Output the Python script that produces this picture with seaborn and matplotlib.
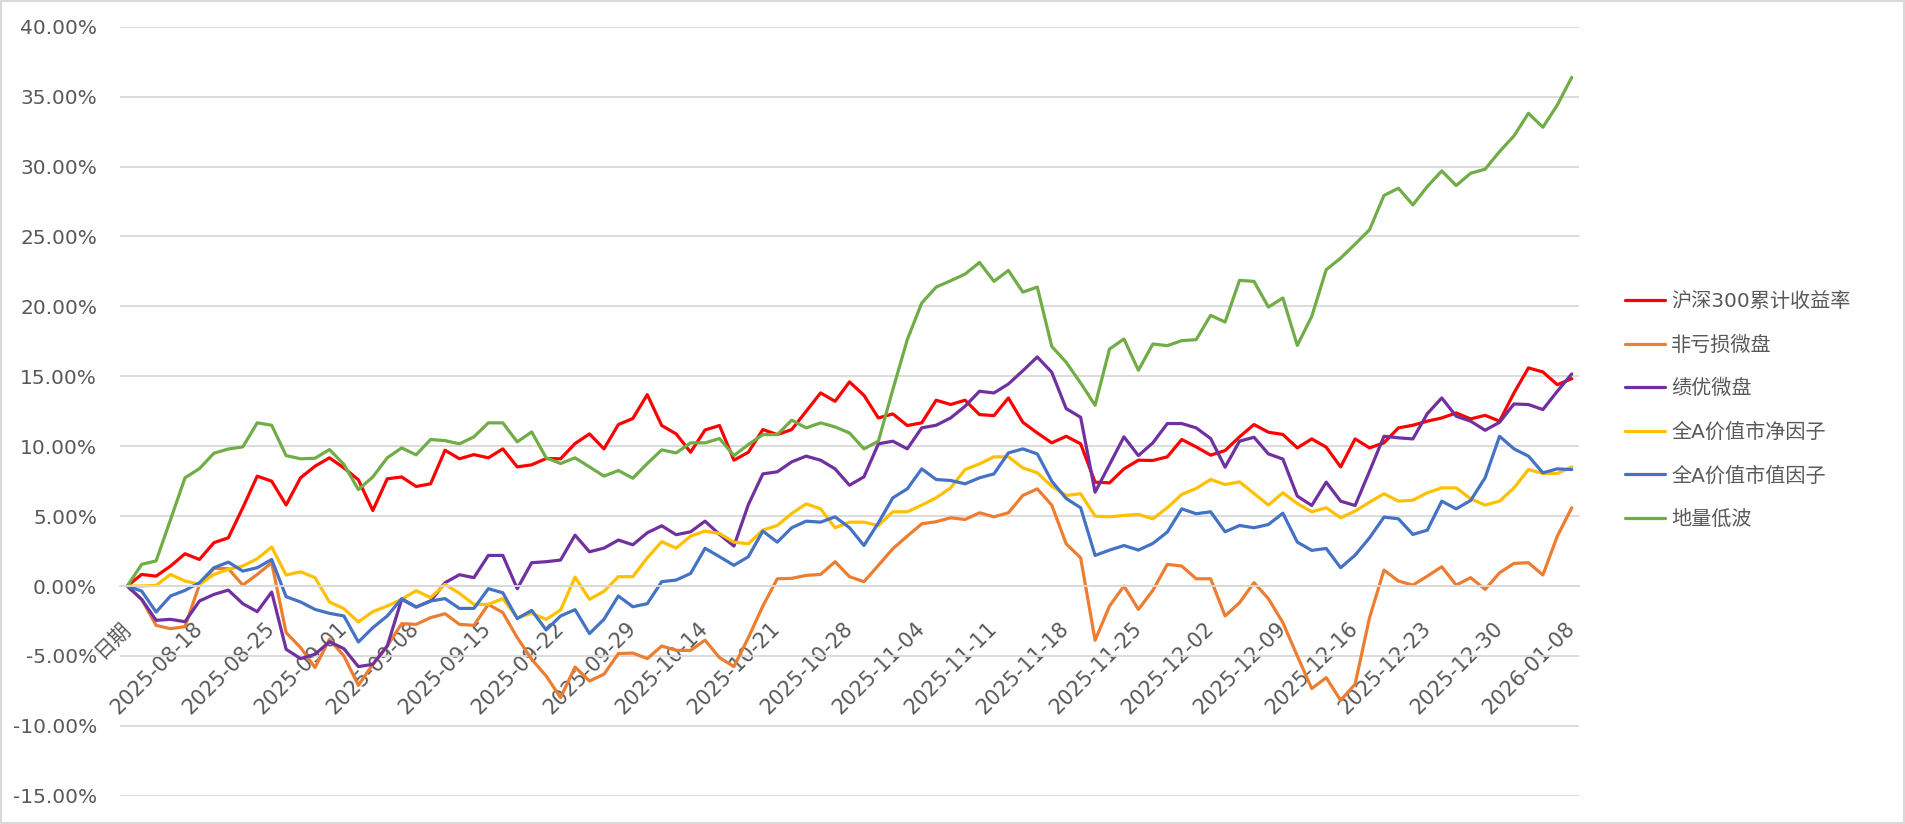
import matplotlib
matplotlib.use("Agg")
import matplotlib.pyplot as plt
import seaborn as sns
import pandas as pd
from matplotlib.ticker import FuncFormatter, MultipleLocator
from matplotlib.patches import Rectangle
from matplotlib.lines import Line2D

categories = [
    "日期",
    "2025-08-12", "2025-08-13", "2025-08-14", "2025-08-15",
    "2025-08-18", "2025-08-19", "2025-08-20", "2025-08-21", "2025-08-22",
    "2025-08-25", "2025-08-26", "2025-08-27", "2025-08-28", "2025-08-29",
    "2025-09-01", "2025-09-02", "2025-09-03", "2025-09-04", "2025-09-05",
    "2025-09-08", "2025-09-09", "2025-09-10", "2025-09-11", "2025-09-12",
    "2025-09-15", "2025-09-16", "2025-09-17", "2025-09-18", "2025-09-19",
    "2025-09-22", "2025-09-23", "2025-09-24", "2025-09-25", "2025-09-26",
    "2025-09-29", "2025-09-30", "2025-10-09", "2025-10-10", "2025-10-13",
    "2025-10-14", "2025-10-15", "2025-10-16", "2025-10-17", "2025-10-20",
    "2025-10-21", "2025-10-22", "2025-10-23", "2025-10-24", "2025-10-27",
    "2025-10-28", "2025-10-29", "2025-10-30", "2025-10-31", "2025-11-03",
    "2025-11-04", "2025-11-05", "2025-11-06", "2025-11-07", "2025-11-10",
    "2025-11-11", "2025-11-12", "2025-11-13", "2025-11-14", "2025-11-17",
    "2025-11-18", "2025-11-19", "2025-11-20", "2025-11-21", "2025-11-24",
    "2025-11-25", "2025-11-26", "2025-11-27", "2025-11-28", "2025-12-01",
    "2025-12-02", "2025-12-03", "2025-12-04", "2025-12-05", "2025-12-08",
    "2025-12-09", "2025-12-10", "2025-12-11", "2025-12-12", "2025-12-15",
    "2025-12-16", "2025-12-17", "2025-12-18", "2025-12-19", "2025-12-22",
    "2025-12-23", "2025-12-24", "2025-12-25", "2025-12-26", "2025-12-29",
    "2025-12-30", "2025-12-31", "2026-01-05", "2026-01-06", "2026-01-07",
    "2026-01-08",
]

series_names = ["沪深300累计收益率", "非亏损微盘", "绩优微盘", "全A价值市净因子", "全A价值市值因子", "地量低波"]

hs300 = [0, 0.83, 0.71, 1.43, 2.31, 1.9, 3.1, 3.45, 5.6, 7.86,
         7.5, 5.8, 7.74, 8.57, 9.17, 8.45, 7.6, 5.4, 7.67, 7.8,
         7.12, 7.31, 9.71, 9.1, 9.4, 9.17, 9.81, 8.52, 8.67, 9.12,
         9.1, 10.19, 10.88, 9.81, 11.55, 11.98, 13.69, 11.48, 10.88, 9.57,
         11.16, 11.48, 9.0, 9.57, 11.19, 10.83, 11.19, 12.5, 13.81, 13.21,
         14.6, 13.64, 12.02, 12.31, 11.48, 11.67, 13.29, 12.98, 13.29, 12.26,
         12.19, 13.45, 11.71, 10.95, 10.24, 10.71, 10.17, 7.43, 7.38, 8.38,
         9.0, 8.98, 9.24, 10.48, 9.95, 9.36, 9.69, 10.67, 11.55, 11.0,
         10.84, 9.88, 10.52, 9.93, 8.52, 10.52, 9.88, 10.24, 11.31, 11.5,
         11.79, 12.02, 12.38, 11.95, 12.21, 11.79, 13.81, 15.6, 15.31, 14.4,
         14.83]

non_loss_micro = [0, -0.95, -2.81, -3.05, -2.9, 0.1, 1.26, 1.24, 0.07, 0.83,
                  1.67, -3.33, -4.4, -5.83, -3.81, -5.0, -7.1, -5.6, -4.29, -2.69,
                  -2.74, -2.26, -1.98, -2.74, -2.81, -1.31, -1.9, -3.69, -5.24, -6.43,
                  -7.98, -5.79, -6.79, -6.31, -4.83, -4.79, -5.19, -4.29, -4.6, -4.6,
                  -3.87, -5.12, -5.76, -3.69, -1.43, 0.52, 0.55, 0.76, 0.83, 1.74,
                  0.67, 0.31, 1.48, 2.67, 3.57, 4.45, 4.6, 4.88, 4.76, 5.24,
                  4.95, 5.24, 6.48, 6.95, 5.79, 3.02, 2.02, -3.88, -1.43, 0.0,
                  -1.67, -0.31, 1.55, 1.43, 0.52, 0.52, -2.14, -1.19, 0.24, -0.9,
                  -2.62, -5.0, -7.33, -6.55, -8.17, -7.02, -2.26, 1.14, 0.36, 0.07,
                  0.71, 1.38, 0.07, 0.6, -0.24, 0.95, 1.62, 1.67, 0.79, 3.57,
                  5.6]

quality_micro = [0, -0.95, -2.45, -2.38, -2.55, -1.07, -0.6, -0.29, -1.26, -1.83,
                 -0.43, -4.52, -5.19, -4.88, -3.98, -4.48, -5.76, -5.6, -4.29, -0.95,
                 -1.5, -1.07, 0.24, 0.81, 0.6, 2.19, 2.19, -0.19, 1.67, 1.74,
                 1.86, 3.64, 2.45, 2.71, 3.29, 2.95, 3.81, 4.31, 3.67, 3.88,
                 4.64, 3.69, 2.86, 5.83, 8.02, 8.17, 8.88, 9.29, 9.0, 8.38,
                 7.21, 7.81, 10.17, 10.36, 9.81, 11.31, 11.5, 12.02, 12.86, 13.93,
                 13.81, 14.45, 15.4, 16.38, 15.29, 12.69, 12.07, 6.71, 8.69, 10.67,
                 9.33, 10.24, 11.62, 11.62, 11.31, 10.55, 8.5, 10.36, 10.64, 9.45,
                 9.08, 6.43, 5.76, 7.43, 6.07, 5.76, 8.21, 10.71, 10.6, 10.52,
                 12.33, 13.45, 12.14, 11.79, 11.14, 11.71, 13.02, 12.98, 12.62, 13.93,
                 15.17]

value_pb = [0, 0, 0.05, 0.83, 0.36, 0.12, 0.83, 1.19, 1.43, 1.95,
            2.79, 0.79, 1.02, 0.6, -1.14, -1.62, -2.57, -1.83, -1.43, -0.95,
            -0.33, -0.83, 0.12, -0.52, -1.31, -1.31, -0.9, -2.26, -1.95, -2.38,
            -1.71, 0.64, -0.95, -0.38, 0.67, 0.67, 2.02, 3.17, 2.71, 3.57,
            3.93, 3.76, 3.14, 3.02, 4.0, 4.33, 5.19, 5.88, 5.52, 4.17,
            4.57, 4.57, 4.33, 5.31, 5.31, 5.79, 6.31, 7.02, 8.33, 8.74,
            9.24, 9.24, 8.45, 8.1, 7.14, 6.48, 6.6, 5.0, 4.95, 5.05,
            5.12, 4.81, 5.6, 6.55, 6.98, 7.62, 7.26, 7.45, 6.62, 5.79,
            6.67, 5.9, 5.31, 5.6, 4.88, 5.36, 6.0, 6.6, 6.07, 6.14,
            6.67, 7.02, 7.02, 6.24, 5.79, 6.07, 7.02, 8.33, 8.05, 8.05,
            8.52]

value_mv = [0, -0.36, -1.86, -0.71, -0.31, 0.24, 1.31, 1.71, 1.07, 1.31,
            1.9, -0.76, -1.14, -1.67, -1.95, -2.14, -4.0, -2.98, -2.14, -0.9,
            -1.5, -1.07, -0.9, -1.6, -1.6, -0.19, -0.48, -2.33, -1.74, -3.14,
            -2.14, -1.69, -3.4, -2.38, -0.71, -1.48, -1.26, 0.31, 0.43, 0.9,
            2.7, 2.1, 1.48, 2.1, 3.93, 3.14, 4.17, 4.64, 4.57, 4.95,
            4.17, 2.9, 4.52, 6.31, 6.95, 8.38, 7.62, 7.55, 7.31, 7.74,
            8.02, 9.52, 9.81, 9.45, 7.5, 6.26, 5.6, 2.19, 2.57, 2.9,
            2.57, 3.05, 3.86, 5.52, 5.17, 5.31, 3.88, 4.33, 4.17, 4.4,
            5.21, 3.14, 2.55, 2.69, 1.31, 2.21, 3.45, 4.93, 4.81, 3.69,
            4.0, 6.07, 5.52, 6.12, 7.74, 10.71, 9.81, 9.29, 8.1, 8.38,
            8.33]

low_vol = [0, 1.55, 1.8, 4.76, 7.74, 8.4, 9.5, 9.8, 9.95, 11.67,
           11.5, 9.33, 9.1, 9.14, 9.76, 8.7, 6.9, 7.8, 9.17, 9.88,
           9.38, 10.48, 10.4, 10.17, 10.67, 11.67, 11.67, 10.31, 11.02, 9.17,
           8.76, 9.17, 8.52, 7.86, 8.26, 7.71, 8.76, 9.74, 9.52, 10.24,
           10.24, 10.55, 9.33, 10.12, 10.83, 10.83, 11.86, 11.31, 11.67, 11.38,
           10.95, 9.81, 10.36, 14.05, 17.62, 20.24, 21.38, 21.83, 22.31, 23.14,
           21.79, 22.57, 21.02, 21.38, 17.14, 16.0, 14.52, 12.93, 16.95, 17.67,
           15.43, 17.31, 17.19, 17.55, 17.62, 19.36, 18.88, 21.86, 21.79, 19.95,
           20.6, 17.21, 19.29, 22.62, 23.45, 24.45, 25.48, 27.93, 28.45, 27.26,
           28.57, 29.69, 28.64, 29.52, 29.81, 31.07, 32.19, 33.81, 32.81, 34.4,
           36.38]

colors = ["#FF0000", "#ED7D31", "#7030A0", "#FFC000", "#4472C4", "#70AD47"]
tick_positions = list(range(0, len(categories), 5))

sns.set_theme(style="white")
plt.rcParams["font.family"] = ["DejaVu Sans", "Noto Sans CJK SC"]

all_series = [hs300, non_loss_micro, quality_micro, value_pb, value_mv, low_vol]
rows = []
for name, vals in zip(series_names, all_series):
    for i, v in enumerate(vals):
        rows.append({"pos": i, "category": categories[i], "series": name, "value": v})
df = pd.DataFrame(rows)

W, H = 1905, 824
fig = plt.figure(figsize=(W / 100, H / 100), dpi=100)
fig.patch.set_facecolor("white")
ax = fig.add_axes([120 / W, 1 - 795.8 / H, (1579 - 120) / W, (795.8 - 26.7) / H])

sns.lineplot(data=df, x="pos", y="value", hue="series", hue_order=series_names,
             palette=colors, linewidth=2.3, ax=ax, legend=False, sort=False,
             estimator=None)

text_color = "#595959"
grid_color = "#d9d9d9"

ax.set_xlim(-0.5, len(categories) - 0.5)
ax.set_ylim(-15, 40)
ax.yaxis.set_major_locator(MultipleLocator(5))
ax.yaxis.set_major_formatter(FuncFormatter(lambda v, p: f"{v:.2f}%"))
ax.yaxis.grid(True, color=grid_color, linewidth=1.3)
ax.xaxis.grid(False)
ax.set_axisbelow(True)
for s in ["left", "right", "top"]:
    ax.spines[s].set_visible(False)
ax.spines["bottom"].set_position(("data", 0))
ax.spines["bottom"].set_color(grid_color)
ax.spines["bottom"].set_linewidth(1.3)

ax.set_xticks(tick_positions)
ax.set_xticklabels([categories[i] for i in tick_positions], rotation=45,
                   ha="right", va="center", rotation_mode="anchor")
ax.tick_params(axis="x", length=0, pad=28, labelsize=15, colors=text_color)
ax.tick_params(axis="y", length=0, pad=16.5, labelsize=14.5, colors=text_color)
ax.set_xlabel("")
ax.set_ylabel("")

handles = [Line2D([0], [0], color=c, linewidth=2.3) for c in colors]
fig.legend(handles, series_names, loc="center left",
           bbox_to_anchor=(1625 / W, 1 - 410.5 / H), frameon=False,
           fontsize=14.5, handlelength=2.0, handletextpad=0.3, labelspacing=1.2,
           borderpad=0, borderaxespad=0, labelcolor=text_color)

fig.patches.append(Rectangle((0, 0), 1, 1, transform=fig.transFigure, fill=False,
                             edgecolor=grid_color, linewidth=3))

fig.savefig("out.png", dpi=100, facecolor="white")
